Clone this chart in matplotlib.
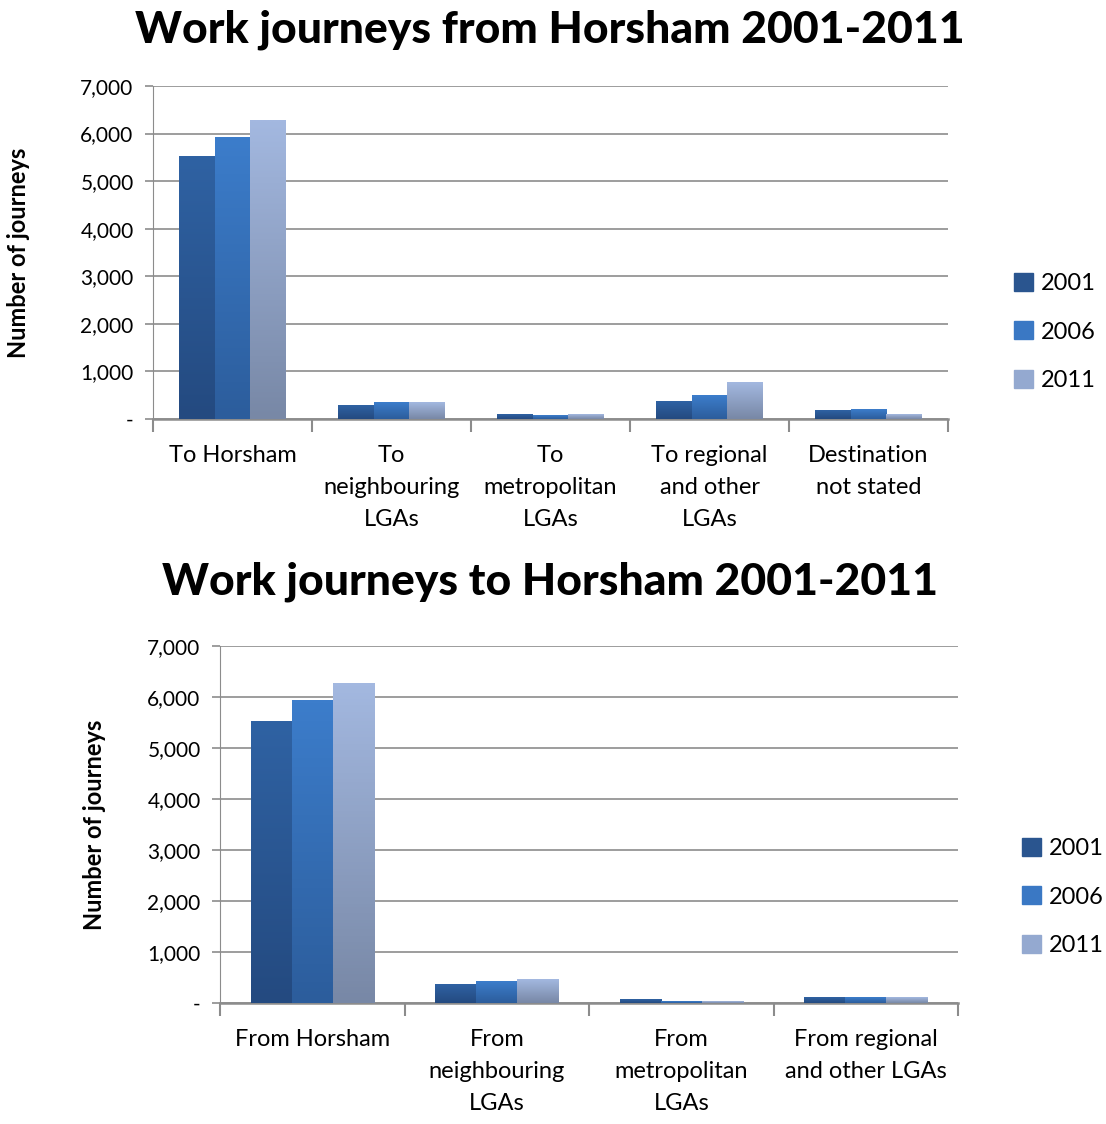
import matplotlib
matplotlib.use("Agg")
import matplotlib.pyplot as plt
import numpy as np
from matplotlib.colors import LinearSegmentedColormap

plt.rcParams['font.family'] = ['Lato', 'DejaVu Sans']

years = ["2001", "2006", "2011"]
cats_from = ["To Horsham", "To\nneighbouring\nLGAs", "To\nmetropolitan\nLGAs",
             "To regional\nand other\nLGAs", "Destination\nnot stated"]
from_2001 = [5520, 294, 98, 378, 182]
from_2006 = [5920, 350, 70, 497, 210]
from_2011 = [6280, 350, 98, 770, 98]

cats_to = ["From Horsham", "From\nneighbouring\nLGAs", "From\nmetropolitan\nLGAs",
           "From regional\nand other LGAs"]
to_2001 = [5510, 366, 78, 111]
to_2006 = [5940, 431, 33, 111]
to_2011 = [6270, 457, 30, 105]

yticks = [0, 1000, 2000, 3000, 4000, 5000, 6000, 7000]
ytick_labels = ["-", "1,000", "2,000", "3,000", "4,000", "5,000", "6,000", "7,000"]

# (top colour, bottom colour) for gradient
grad = [("#2F62A3", "#244A80"), ("#3C7DCB", "#2C5D9C"), ("#A3B8E0", "#7888A6")]
legend_colors = ["#2A558F", "#3A78C4", "#94A9D0"]

fig = plt.figure(figsize=(11.06, 11.24), dpi=100)
W, H = 1106, 1124


def draw(ax_rect, cats, series, title, title_y, legend_y, legend_x):
    ax = fig.add_axes(ax_rect)
    n = len(cats)
    x = np.arange(n)
    bw = 0.223
    for i, vals in enumerate(series):
        bars = ax.bar(x + (i - 1) * bw, vals, bw, color=legend_colors[i],
                      label=years[i], zorder=3, linewidth=0)
        cmap = LinearSegmentedColormap.from_list("g", [grad[i][1], grad[i][0]])
        for b in bars:
            x0, y0 = b.get_x(), b.get_y()
            ax.imshow(np.linspace(0, 1, 100).reshape(-1, 1), cmap=cmap, origin="lower",
                      extent=(x0, x0 + b.get_width(), y0, y0 + b.get_height()),
                      aspect="auto", zorder=4)
    ax.set_xlim(-0.5, n - 0.5)
    ax.set_ylim(0, 7000)
    ax.set_yticks(yticks)
    ax.set_yticklabels(ytick_labels, fontsize=15)
    ax.yaxis.grid(True, color="#8C8C8C", linewidth=1.2, zorder=0)
    ax.set_axisbelow(True)
    ax.set_xticks(np.arange(n + 1) - 0.5)
    ax.set_xticklabels([])
    ax.set_xticks(x, minor=True)
    ax.set_xticklabels(cats, minor=True, fontsize=17, linespacing=1.65)
    ax.tick_params(axis="x", which="minor", length=0, pad=19)
    ax.tick_params(axis="x", which="major", length=9, width=1.5, color="#8C8C8C")
    ax.tick_params(axis="y", length=6, width=1.2, color="#8C8C8C", pad=8)
    for s in ["top", "right"]:
        ax.spines[s].set_visible(False)
    ax.spines["left"].set_color("#8C8C8C")
    ax.spines["bottom"].set_color("#8C8C8C")
    ax.spines["bottom"].set_linewidth(1.8)
    ax.set_ylabel("Number of journeys", fontsize=17, fontweight="bold")
    fig.text(550 / W, 1 - title_y / H, title, fontsize=32, fontweight="black",
             ha="center", va="center")
    handles = [plt.Rectangle((0, 0), 1, 1, color=c) for c in legend_colors]
    fig.legend(handles, years, loc="center left",
               bbox_to_anchor=(legend_x / W, 1 - legend_y / H),
               frameon=False, fontsize=17, handlelength=0.8, handleheight=0.8,
               labelspacing=1.15, handletextpad=0.35, borderpad=0, borderaxespad=0)
    return ax


ax1 = draw([153 / W, 1 - 419 / H, (948 - 153) / W, (419 - 86) / H], cats_from,
           [from_2001, from_2006, from_2011],
           "Work journeys from Horsham 2001-2011", 30, 332, 1014)
ax1.yaxis.set_label_coords(-0.155, 0.5)
ax2 = draw([220 / W, 1 - 1003 / H, (958 - 220) / W, (1003 - 646) / H], cats_to,
           [to_2001, to_2006, to_2011],
           "Work journeys to Horsham 2001-2011", 582, 897, 1022)
ax2.yaxis.set_label_coords(-0.155, 0.5)

fig.savefig("out.png", dpi=100)
